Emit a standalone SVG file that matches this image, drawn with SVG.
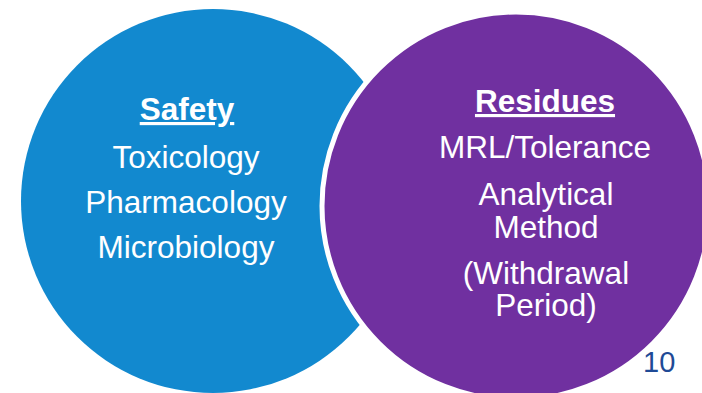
<svg xmlns="http://www.w3.org/2000/svg" width="702" height="393" viewBox="0 0 702 393">
  <style>
    .lbl { font-family: "Liberation Sans", Arial, sans-serif; font-size: 31.5px; fill: #ffffff; text-anchor: middle; }
    .head { font-weight: bold; text-decoration: underline; }
    .pgnum { font-family: "Liberation Sans", Arial, sans-serif; font-size: 29px; fill: #1F4A96; }
  </style>
  <rect width="702" height="393" fill="#ffffff"/>

  <!-- slide number sits behind the purple circle -->
  <text class="pgnum" x="643" y="372">10</text>

  <g id="safety">
    <circle cx="213" cy="201" r="192" fill="#1289CF"/>
    <text class="lbl head" x="187" y="120">Safety</text>
    <text class="lbl" x="186" y="168">Toxicology</text>
    <text class="lbl" x="186" y="213">Pharmacology</text>
    <text class="lbl" x="186" y="258">Microbiology</text>
  </g>

  <g id="residues">
    <circle cx="516" cy="206" r="194" fill="#7030A0" stroke="#ffffff" stroke-width="5"/>
    <text class="lbl head" x="545" y="112">Residues</text>
    <text class="lbl" x="545" y="158">MRL/Tolerance</text>
    <text class="lbl" x="546" y="205">Analytical</text>
    <text class="lbl" x="546" y="238">Method</text>
    <text class="lbl" x="546" y="284">(Withdrawal</text>
    <text class="lbl" x="546" y="316">Period)</text>
  </g>

  <g id="connectors"></g>
</svg>
